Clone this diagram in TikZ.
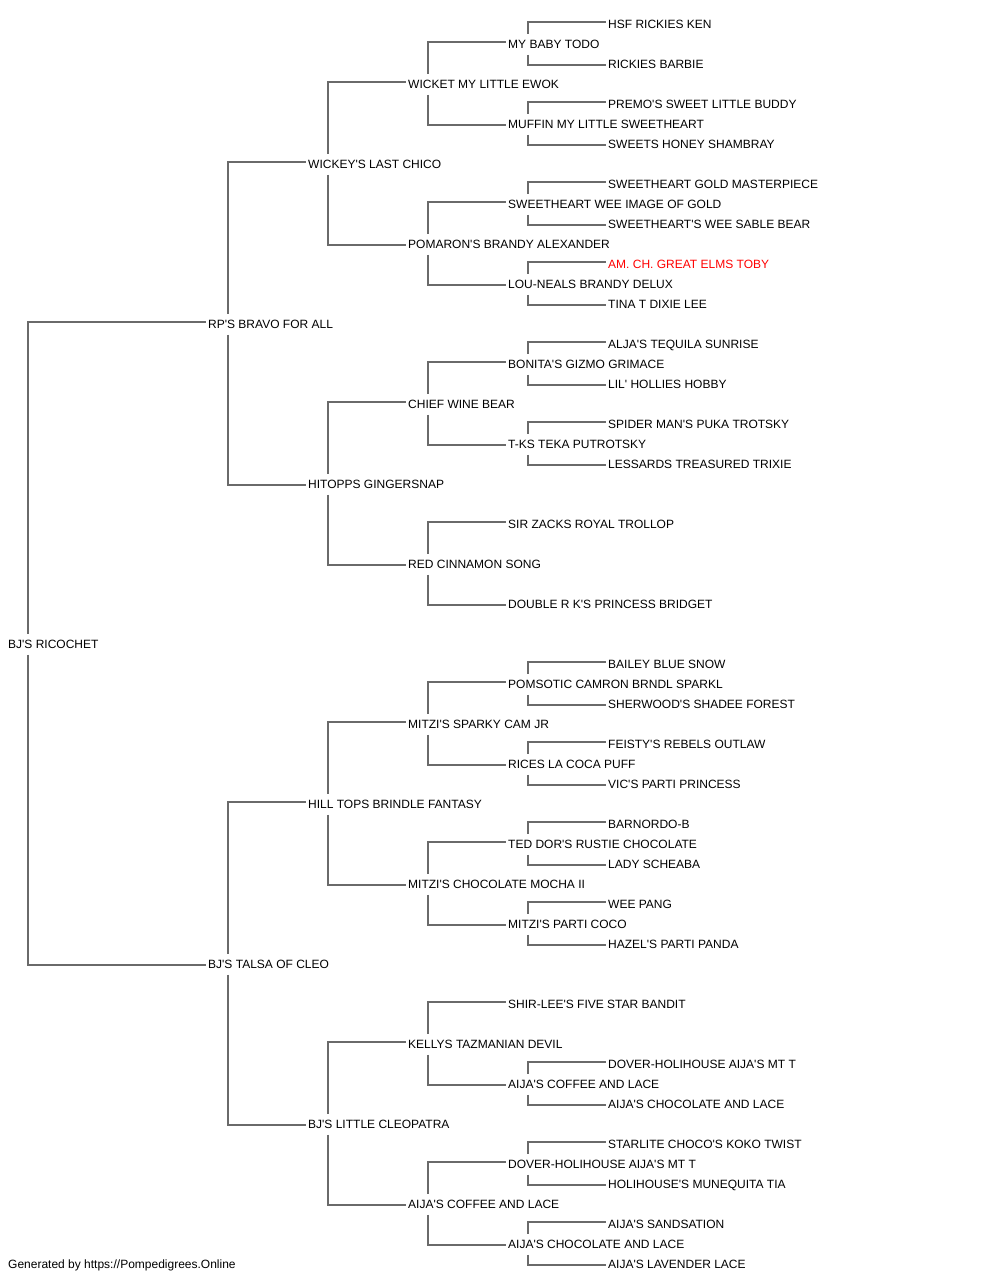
\documentclass[tikz,border=0pt]{standalone}
\usepackage{fontspec}
\newfontfamily\pedfont{Liberation Sans}
\usepackage{tikz}
\definecolor{LineGray}{HTML}{6A6A6A}
\definecolor{ChampRed}{HTML}{FF0000}

\begin{document}
\begin{tikzpicture}[x=1pt, y=-1pt,
    dog/.style={anchor=west, inner xsep=2pt, inner ysep=6pt,
                text height=8.6pt, text depth=0pt,
                font=\pedfont\fontsize{12}{14}\selectfont},
    champ/.style={dog, text=ChampRed},
    link/.style={draw=LineGray, line width=1.5pt}]
  \useasboundingbox (0,0) rectangle (1000,1280);

  % generation 0 and 1
  \node[dog] (bj) at (6,644) {BJ'S RICOCHET};
  \node[dog] (s) at (206,324) {RP'S BRAVO FOR ALL};
  \node[dog] (d) at (206,964) {BJ'S TALSA OF CLEO};

  % generation 2
  \node[dog] (ss) at (306,164) {WICKEY'S LAST CHICO};
  \node[dog] (sd) at (306,484) {HITOPPS GINGERSNAP};
  \node[dog] (ds) at (306,804) {HILL TOPS BRINDLE FANTASY};
  \node[dog] (dd) at (306,1124) {BJ'S LITTLE CLEOPATRA};

  % generation 3
  \node[dog] (sss) at (406,84) {WICKET MY LITTLE EWOK};
  \node[dog] (ssd) at (406,244) {POMARON'S BRANDY ALEXANDER};
  \node[dog] (sds) at (406,404) {CHIEF WINE BEAR};
  \node[dog] (sdd) at (406,564) {RED CINNAMON SONG};
  \node[dog] (dss) at (406,724) {MITZI'S SPARKY CAM JR};
  \node[dog] (dsd) at (406,884) {MITZI'S CHOCOLATE MOCHA II};
  \node[dog] (dds) at (406,1044) {KELLYS TAZMANIAN DEVIL};
  \node[dog] (ddd) at (406,1204) {AIJA'S COFFEE AND LACE};

  % generation 4
  \node[dog] (ssss) at (506,44) {MY BABY TODO};
  \node[dog] (sssd) at (506,124) {MUFFIN MY LITTLE SWEETHEART};
  \node[dog] (ssds) at (506,204) {SWEETHEART WEE IMAGE OF GOLD};
  \node[dog] (ssdd) at (506,284) {LOU-NEALS BRANDY DELUX};
  \node[dog] (sdss) at (506,364) {BONITA'S GIZMO GRIMACE};
  \node[dog] (sdsd) at (506,444) {T-KS TEKA PUTROTSKY};
  \node[dog] (sdds) at (506,524) {SIR ZACKS ROYAL TROLLOP};
  \node[dog] (sddd) at (506,604) {DOUBLE R K'S PRINCESS BRIDGET};
  \node[dog] (dsss) at (506,684) {POMSOTIC CAMRON BRNDL SPARKL};
  \node[dog] (dssd) at (506,764) {RICES LA COCA PUFF};
  \node[dog] (dsds) at (506,844) {TED DOR'S RUSTIE CHOCOLATE};
  \node[dog] (dsdd) at (506,924) {MITZI'S PARTI COCO};
  \node[dog] (ddss) at (506,1004) {SHIR-LEE'S FIVE STAR BANDIT};
  \node[dog] (ddsd) at (506,1084) {AIJA'S COFFEE AND LACE};
  \node[dog] (ddds) at (506,1164) {DOVER-HOLIHOUSE AIJA'S MT T};
  \node[dog] (dddd) at (506,1244) {AIJA'S CHOCOLATE AND LACE};

  % generation 5
  \node[dog] (sssss) at (606,24) {HSF RICKIES KEN};
  \node[dog] (ssssd) at (606,64) {RICKIES BARBIE};
  \node[dog] (sssds) at (606,104) {PREMO'S SWEET LITTLE BUDDY};
  \node[dog] (sssdd) at (606,144) {SWEETS HONEY SHAMBRAY};
  \node[dog] (ssdss) at (606,184) {SWEETHEART GOLD MASTERPIECE};
  \node[dog] (ssdsd) at (606,224) {SWEETHEART'S WEE SABLE BEAR};
  \node[champ] (ssdds) at (606,264) {AM. CH. GREAT ELMS TOBY};
  \node[dog] (ssddd) at (606,304) {TINA T DIXIE LEE};
  \node[dog] (sdsss) at (606,344) {ALJA'S TEQUILA SUNRISE};
  \node[dog] (sdssd) at (606,384) {LIL' HOLLIES HOBBY};
  \node[dog] (sdsds) at (606,424) {SPIDER MAN'S PUKA TROTSKY};
  \node[dog] (sdsdd) at (606,464) {LESSARDS TREASURED TRIXIE};
  \node[dog] (dssss) at (606,664) {BAILEY BLUE SNOW};
  \node[dog] (dsssd) at (606,704) {SHERWOOD'S SHADEE FOREST};
  \node[dog] (dssds) at (606,744) {FEISTY'S REBELS OUTLAW};
  \node[dog] (dssdd) at (606,784) {VIC'S PARTI PRINCESS};
  \node[dog] (dsdss) at (606,824) {BARNORDO-B};
  \node[dog] (dsdsd) at (606,864) {LADY SCHEABA};
  \node[dog] (dsdds) at (606,904) {WEE PANG};
  \node[dog] (dsddd) at (606,944) {HAZEL'S PARTI PANDA};
  \node[dog] (ddsds) at (606,1064) {DOVER-HOLIHOUSE AIJA'S MT T};
  \node[dog] (ddsdd) at (606,1104) {AIJA'S CHOCOLATE AND LACE};
  \node[dog] (dddss) at (606,1144) {STARLITE CHOCO'S KOKO TWIST};
  \node[dog] (dddsd) at (606,1184) {HOLIHOUSE'S MUNEQUITA TIA};
  \node[dog] (dddds) at (606,1224) {AIJA'S SANDSATION};
  \node[dog] (ddddd) at (606,1264) {AIJA'S LAVENDER LACE};

  \node[dog] (credit) at (6,1264) {Generated by https://Pompedigrees.Online};

  % parent -> sire / dam
  \foreach \p/\s/\d in {bj/s/d, s/ss/sd, d/ds/dd,
      ss/sss/ssd, sd/sds/sdd, ds/dss/dsd, dd/dds/ddd,
      sss/ssss/sssd, ssd/ssds/ssdd, sds/sdss/sdsd, sdd/sdds/sddd,
      dss/dsss/dssd, dsd/dsds/dsdd, dds/ddss/ddsd, ddd/ddds/dddd,
      ssss/sssss/ssssd, sssd/sssds/sssdd, ssds/ssdss/ssdsd, ssdd/ssdds/ssddd,
      sdss/sdsss/sdssd, sdsd/sdsds/sdsdd,
      dsss/dssss/dsssd, dssd/dssds/dssdd, dsds/dsdss/dsdsd, dsdd/dsdds/dsddd,
      ddsd/ddsds/ddsdd, ddds/dddss/dddsd, dddd/dddds/ddddd}
    \draw[link] ([xshift=22pt]\p.north west) |- ([yshift=2pt]\s.west)
                ([xshift=22pt]\p.south west) |- ([yshift=-1pt]\d.west);
\end{tikzpicture}
\end{document}
